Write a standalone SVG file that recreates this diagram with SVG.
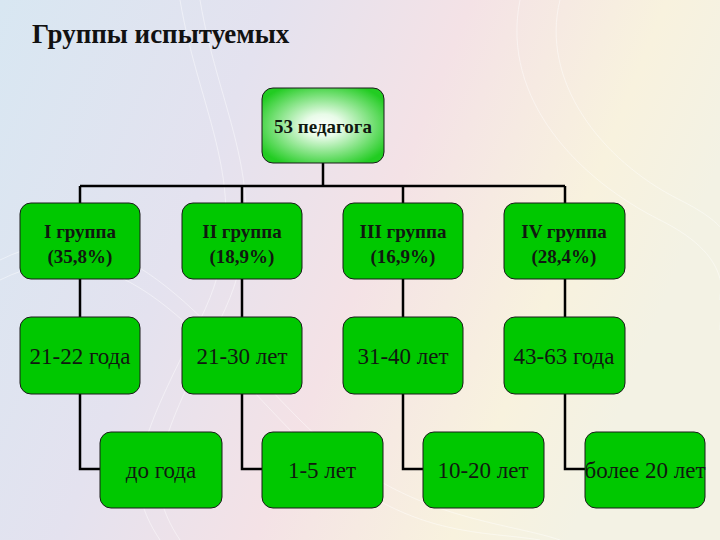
<svg xmlns="http://www.w3.org/2000/svg" width="720" height="540" viewBox="0 0 720 540">
<defs>
<linearGradient id="bg" x1="0" y1="0" x2="1" y2="0.3">
<stop offset="0" stop-color="#d8e7f2"/>
<stop offset="0.35" stop-color="#e4e2ef"/>
<stop offset="0.6" stop-color="#f4e2e6"/>
<stop offset="0.85" stop-color="#f8f2de"/>
<stop offset="1" stop-color="#f3f2e4"/>
</linearGradient>
<radialGradient id="top" cx="0.5" cy="0.5" r="0.6">
<stop offset="0" stop-color="#ffffff"/>
<stop offset="0.25" stop-color="#e8fbe8"/>
<stop offset="1" stop-color="#22cc22"/>
</radialGradient>
<style>
.box{fill:#00c800;stroke:#1a1a1a;stroke-width:1}
.b{font-family:"Liberation Serif","Times New Roman","DejaVu Serif",serif;font-weight:bold;font-size:19px;fill:#101810;text-anchor:middle}
.n{font-family:"Liberation Serif","Times New Roman","DejaVu Serif",serif;font-size:23px;fill:#101810;text-anchor:middle}
.t{font-family:"Liberation Serif","Times New Roman","DejaVu Serif",serif;font-weight:bold;font-size:27px;fill:#111}
.wave{fill:none;stroke:#ffffff;stroke-opacity:0.45;stroke-width:1}
</style>
</defs>
<rect width="720" height="540" fill="url(#bg)"/>
<g id="background-waves">
<path class="wave" d="M0 260 C120 200 200 320 300 420 S500 520 560 540"/>
<path class="wave" d="M0 280 C120 220 200 340 300 440 S480 530 540 540"/>
<path class="wave" d="M180 0 C200 120 260 200 200 320 S120 480 160 540"/>
<path class="wave" d="M200 0 C220 120 280 200 220 320 S140 480 180 540"/>
<path class="wave" d="M560 0 C540 80 600 160 680 200 S720 260 720 300"/>
<path class="wave" d="M520 0 C500 100 580 180 660 220 S720 300 720 330"/>
</g>
<text class="t" x="32" y="43">Группы испытуемых</text>
<g id="connectors" stroke="#000" stroke-width="2.5" fill="none">
<path d="M323 163 V186 M80 186 H565 M80 186 V203 M242 186 V203 M403 186 V203 M565 186 V203"/>
<path d="M80 279 V317 M242 279 V317 M403 279 V317 M565 279 V317"/>
<path d="M80 394 V469 H100 M242 394 V469 H262 M403 394 V469 H423 M565 394 V469 H585"/>
</g>
<g id="root">
<rect x="262" y="88" width="122" height="75" rx="11" fill="url(#top)" stroke="#1a1a1a" stroke-width="1"/>
<text class="b" x="323" y="133">53 педагога</text>
</g>
<g id="g1"><rect class="box" x="20" y="203" width="120" height="76" rx="11"/><text class="b" x="80" y="238">I группа</text><text class="b" x="80" y="263">(35,8%)</text></g>
<g id="g2"><rect class="box" x="182" y="203" width="120" height="76" rx="11"/><text class="b" x="242" y="238">II группа</text><text class="b" x="242" y="263">(18,9%)</text></g>
<g id="g3"><rect class="box" x="343" y="203" width="120" height="76" rx="11"/><text class="b" x="403" y="238">III группа</text><text class="b" x="403" y="263">(16,9%)</text></g>
<g id="g4"><rect class="box" x="504" y="203" width="121" height="76" rx="11"/><text class="b" x="564" y="238">IV группа</text><text class="b" x="564" y="263">(28,4%)</text></g>
<g id="a1"><rect class="box" x="20" y="317" width="120" height="77" rx="11"/><text class="n" x="80" y="364">21-22 года</text></g>
<g id="a2"><rect class="box" x="182" y="317" width="120" height="77" rx="11"/><text class="n" x="242" y="364">21-30 лет</text></g>
<g id="a3"><rect class="box" x="343" y="317" width="120" height="77" rx="11"/><text class="n" x="403" y="364">31-40 лет</text></g>
<g id="a4"><rect class="box" x="504" y="317" width="121" height="77" rx="11"/><text class="n" x="564" y="364">43-63 года</text></g>
<g id="e1"><rect class="box" x="100" y="432" width="122" height="76" rx="11"/><text class="n" x="161" y="478">до года</text></g>
<g id="e2"><rect class="box" x="262" y="432" width="121" height="76" rx="11"/><text class="n" x="322" y="478">1-5 лет</text></g>
<g id="e3"><rect class="box" x="423" y="432" width="121" height="76" rx="11"/><text class="n" x="483" y="478">10-20 лет</text></g>
<g id="e4"><rect class="box" x="585" y="432" width="120" height="76" rx="11"/><text class="n" x="645" y="478" font-size="21.5">более 20 лет</text></g>
</svg>
